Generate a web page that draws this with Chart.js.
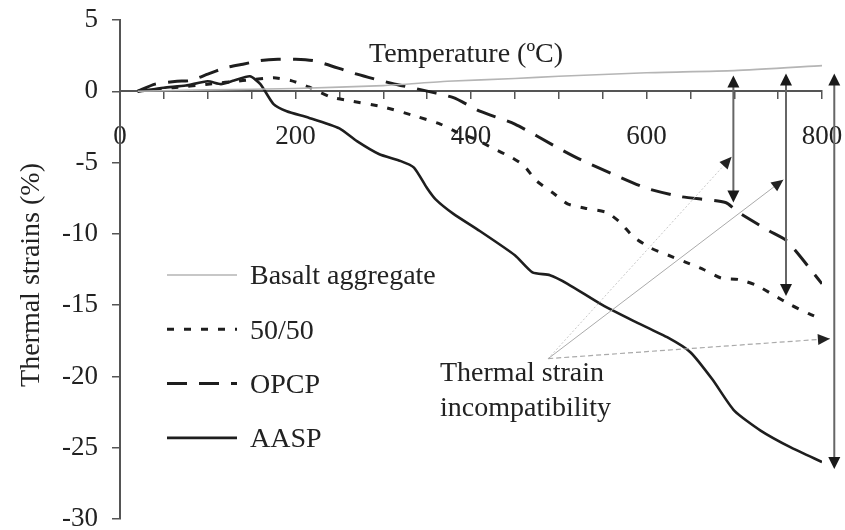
<!DOCTYPE html>
<html>
<head>
<meta charset="utf-8">
<script src="https://cdn.jsdelivr.net/npm/chart.js@4/dist/chart.umd.min.js"></script>
<style>
  body { margin: 0; background: #fff; }
  #box { width: 845px; height: 530px; }
</style>
</head>
<body>
<div id="box"><canvas id="canvasDeformacao" width="845" height="530"></canvas></div>
<script>
// temperatura (ºC) e deformacao termica (%) de cada material
var basaltTemps   = [20, 100, 200, 300, 373, 450, 500, 600, 700, 800]
var basaltStrains = [0, 0.1, 0.2, 0.4, 0.7, 0.9, 1.05, 1.3, 1.45, 1.8]

var mixTemps   = [20, 60, 100, 140, 175, 195, 215, 240, 260, 300, 340, 365, 385, 405, 425, 445, 460, 475, 495, 510, 530, 555, 570, 585, 605, 625, 645, 665, 685, 705, 725, 745, 765, 785, 800]
var mixStrains = [0, 0.25, 0.5, 0.75, 0.95, 0.75, 0.3, -0.4, -0.65, -1.1, -1.8, -2.3, -2.9, -3.35, -4.0, -4.6, -5.2, -6.3, -7.2, -7.9, -8.2, -8.5, -9.2, -10.2, -11.0, -11.5, -12.0, -12.5, -13.1, -13.2, -13.6, -14.3, -15.0, -15.6, -16.0]

var opcpTemps   = [20, 40, 65, 80, 100, 120, 140, 160, 180, 200, 220, 235, 270, 310, 340, 380, 410, 450, 500, 525, 565, 600, 640, 690, 705, 740, 760, 800]
var opcpStrains = [0, 0.5, 0.7, 0.75, 1.2, 1.65, 1.9, 2.15, 2.25, 2.25, 2.15, 1.9, 1.2, 0.55, 0.15, -0.45, -1.4, -2.3, -4.0, -4.8, -5.9, -6.8, -7.4, -7.8, -8.5, -9.8, -10.5, -13.5]

var aaspTemps   = [20, 50, 75, 100, 115, 130, 148, 160, 175, 190, 215, 250, 270, 295, 320, 335, 350, 360, 380, 410, 450, 470, 490, 510, 550, 585, 625, 650, 675, 700, 730, 765, 800]
var aaspStrains = [0, 0.25, 0.4, 0.7, 0.5, 0.75, 1.05, 0.5, -0.9, -1.4, -1.85, -2.6, -3.5, -4.4, -4.9, -5.35, -6.8, -7.6, -8.6, -9.8, -11.5, -12.7, -12.9, -13.5, -15.0, -16.1, -17.3, -18.3, -20.2, -22.4, -23.8, -25.0, -26.0]

var xTicks = [0, 200, 400, 600, 800]

// setas de incompatibilidade (em unidades do grafico)
var gapTemps   = [699, 759, 814]
var gapTops    = [1.1, 1.25, 1.25]
var gapBottoms = [-7.8, -14.35, -26.5]

var pointerOrigin  = [488, -18.75]
var pointerTemps   = [697, 756, 809]
var pointerStrains = [-4.6, -6.2, -17.35]

var fonte = 'Liberation Serif, Times New Roman, serif'
var corTexto = '#222'

function pares(xs, ys){
    return xs.map(function(x, i){ return {x: x, y: ys[i]} })
}

function ponta(c, x1, y1, x2, y2, comp, larg){
    var ang = Math.atan2(y2 - y1, x2 - x1)
    c.save()
    c.translate(x2, y2)
    c.rotate(ang)
    c.beginPath()
    c.moveTo(0, 0)
    c.lineTo(-comp, -larg / 2)
    c.lineTo(-comp, larg / 2)
    c.closePath()
    c.fill()
    c.restore()
}

var extras = {
    id: 'extras',
    afterDatasetsDraw: function(chart){
        var c = chart.ctx
        var sx = chart.scales.x
        var sy = chart.scales.y

        c.save()

        // linhas de chamada
        var estilos = [
            {cor: '#c8c8c8', dash: [2, 2], w: 1},
            {cor: '#aaa', dash: [], w: 1},
            {cor: '#aaa', dash: [5, 3], w: 1.2}
        ]
        var ox = sx.getPixelForValue(pointerOrigin[0])
        var oy = sy.getPixelForValue(pointerOrigin[1])
        pointerTemps.forEach(function(t, i){
            var px = sx.getPixelForValue(t)
            var py = sy.getPixelForValue(pointerStrains[i])
            c.strokeStyle = estilos[i].cor
            c.lineWidth = estilos[i].w
            c.setLineDash(estilos[i].dash)
            c.beginPath()
            c.moveTo(ox, oy)
            c.lineTo(px, py)
            c.stroke()
            c.setLineDash([])
            c.fillStyle = '#222'
            ponta(c, ox, oy, px, py, 12, 11)
        })

        // setas verticais duplas
        gapTemps.forEach(function(t, i){
            var x = sx.getPixelForValue(t)
            var yt = sy.getPixelForValue(gapTops[i])
            var yb = sy.getPixelForValue(gapBottoms[i])
            c.strokeStyle = '#666'
            c.lineWidth = 2
            c.beginPath()
            c.moveTo(x, yt + 6)
            c.lineTo(x, yb - 6)
            c.stroke()
            c.fillStyle = '#1a1a1a'
            ponta(c, x, yb, x, yt, 12, 12)
            ponta(c, x, yt, x, yb, 12, 12)
        })

        // textos
        c.fillStyle = corTexto
        c.font = '28px ' + fonte
        c.textBaseline = 'middle'
        c.textAlign = 'left'
        c.fillText('Temperature (ºC)', 369, 55)
        c.fillText('Thermal strain', 440, 374)
        c.fillText('incompatibility', 440, 409)

        c.save()
        c.translate(32, 275)
        c.rotate(-Math.PI / 2)
        c.textAlign = 'center'
        c.fillText('Thermal strains (%)', 0, 0)
        c.restore()

        // legenda
        chart.data.datasets.forEach(function(ds, i){
            var y = 275 + i * 54.3
            c.strokeStyle = ds.borderColor
            c.lineWidth = ds.borderWidth
            c.setLineDash(ds.borderDash || [])
            c.beginPath()
            c.moveTo(167, y)
            c.lineTo(237, y)
            c.stroke()
            c.setLineDash([])
            c.fillStyle = corTexto
            c.fillText(ds.label, 250, y + 2)
        })

        c.restore()
    }
}

var ctx = document.getElementById('canvasDeformacao').getContext('2d')

var chart = new Chart(ctx, {
    type: 'line',
    data: {
        datasets: [{
            label: 'Basalt aggregate',
            data: pares(basaltTemps, basaltStrains),
            borderColor: '#b5b5b5',
            borderWidth: 1.6,
            tension: 0.2
        }, {
            label: '50/50',
            data: pares(mixTemps, mixStrains),
            borderColor: '#1e1e1e',
            borderWidth: 3,
            borderDash: [7, 10],
            tension: 0.2
        }, {
            label: 'OPCP',
            data: pares(opcpTemps, opcpStrains),
            borderColor: '#1e1e1e',
            borderWidth: 3,
            borderDash: [20, 12],
            tension: 0.2
        }, {
            label: 'AASP',
            data: pares(aaspTemps, aaspStrains),
            borderColor: '#1e1e1e',
            borderWidth: 2.6,
            tension: 0.2
        }]
    },
    options: {
        responsive: false,
        animation: false,
        layout: { padding: { top: 20, bottom: 11, left: 0, right: 23 } },
        elements: { point: { radius: 0 } },
        plugins: { legend: { display: false }, tooltip: { enabled: false } },
        scales: {
            x: {
                type: 'linear',
                min: 0,
                max: 800,
                position: { y: 0 },
                border: { color: '#555', width: 2 },
                grid: { drawOnChartArea: false, tickLength: 7, color: '#555', lineWidth: 1.5 },
                ticks: {
                    stepSize: 50,
                    autoSkip: false,
                    maxRotation: 0,
                    padding: 22,
                    color: corTexto,
                    font: { family: fonte, size: 27 },
                    callback: function(v){ return xTicks.indexOf(v) >= 0 ? v : '' }
                },
                afterFit: function(s){
                    s.paddingLeft = 0
                    s.paddingRight = 0
                }
            },
            y: {
                min: -30,
                max: 5,
                position: 'left',
                border: { color: '#555', width: 2 },
                grid: { drawOnChartArea: false, tickLength: 8, color: '#555', lineWidth: 1.5 },
                ticks: {
                    stepSize: 5,
                    padding: 14,
                    color: corTexto,
                    font: { family: fonte, size: 27 }
                },
                afterFit: function(s){
                    s.width = 120
                    s.paddingTop = 0
                    s.paddingBottom = 0
                }
            }
        }
    },
    plugins: [extras]
})
</script>
</body>
</html>
